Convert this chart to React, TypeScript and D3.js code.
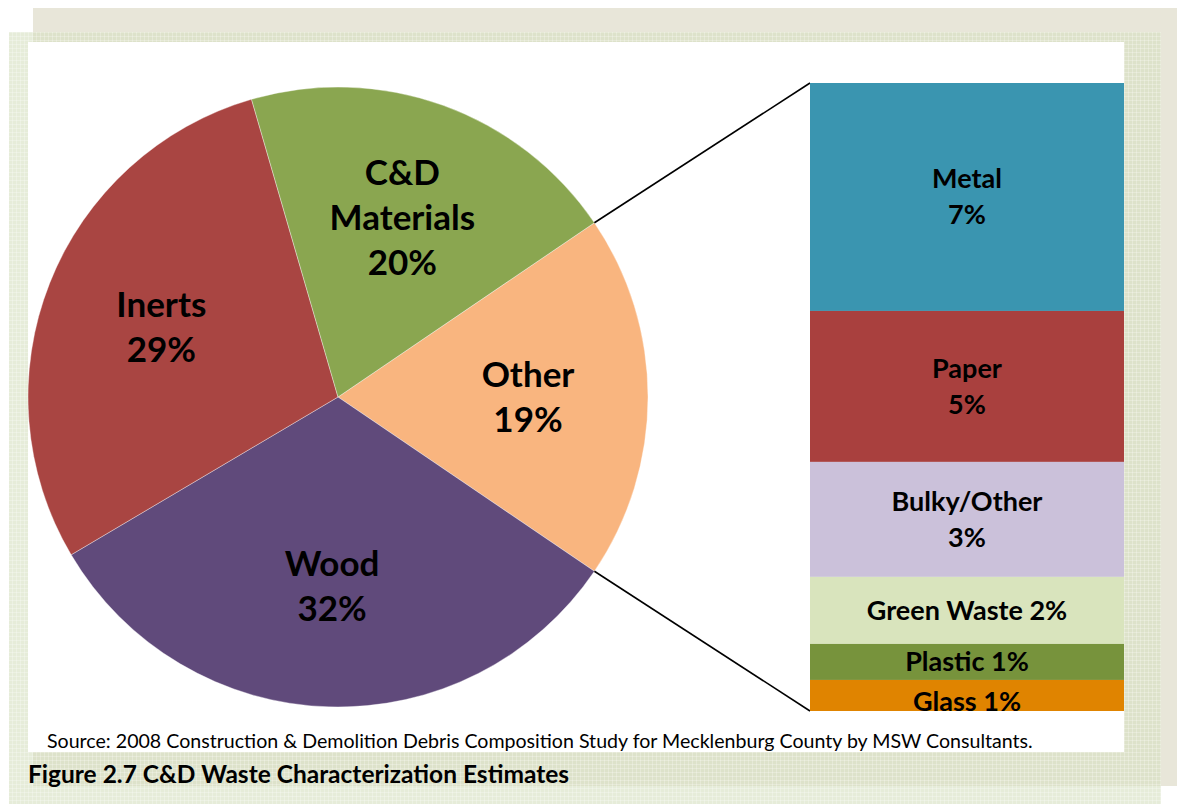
import React from "react";
import * as d3 from "d3";

// ---- data ----
const pieCategories = ["Other", "Wood", "Inerts", "C&D Materials"];
const pieValues = [19, 32, 29, 20];
const pieColors = ["#f9b57f", "#604a7b", "#a94542", "#8aa650"];
const pieLabelLines = [["Other", "19%"], ["Wood", "32%"], ["Inerts", "29%"], ["C&D", "Materials", "20%"]];

const barCategories = ["Metal", "Paper", "Bulky/Other", "Green Waste", "Plastic", "Glass"];
const barValues = [6.9, 4.57, 3.48, 2.03, 1.09, 0.94];
const barColors = ["#3a95b0", "#a9403e", "#cbc1da", "#d9e4bd", "#77933c", "#e08400"];
const barLabelLines = [["Metal", "7%"], ["Paper", "5%"], ["Bulky/Other", "3%"], ["Green Waste 2%"], ["Plastic 1%"], ["Glass 1%"]];

const sourceText = "Source: 2008 Construction & Demolition Debris Composition Study for Mecklenburg County by MSW Consultants.";
const captionText = "Figure 2.7 C&D Waste Characterization Estimates";

// ---- layout ----
const W = 1177, H = 804;
const cx = 338, cy = 397, R = 310;
const labelR = 190;
const barX0 = 810, barX1 = 1124, barTop = 83, barBottom = 711;
const FONT = "Lato, 'Open Sans', sans-serif";

export default function App() {
  const otherFrac = pieValues[0] / d3.sum(pieValues);
  const start = Math.PI / 2 - otherFrac * Math.PI;
  const pie = d3.pie<number>().sort(null).value((d) => d).startAngle(start).endAngle(start + 2 * Math.PI);
  const arcs = pie(pieValues);
  const arcGen = d3.arc<d3.PieArcDatum<number>>().innerRadius(0).outerRadius(R);
  const labelArc = d3.arc<d3.PieArcDatum<number>>().innerRadius(labelR).outerRadius(labelR);

  const total = d3.sum(barValues);
  const y = d3.scaleLinear().domain([0, total]).range([barTop, barBottom]);
  const cum = barValues.map((_, i) => d3.sum(barValues.slice(0, i)));

  const pt = (a: number) => [cx + R * Math.sin(a), cy - R * Math.cos(a)];
  const p1 = pt(arcs[0].startAngle);
  const p2 = pt(arcs[0].endAngle);

  const pieLH = 45, pieCap = 24;
  const barLH = 36, barCap = 19;

  return (
    <svg width={W} height={H} style={{ position: "absolute", left: 0, top: 0 }} fontFamily={FONT}>
      <defs>
        <pattern id="tex" width="4" height="4" patternUnits="userSpaceOnUse">
          <rect width="4" height="4" fill="none" />
          <rect x="0" y="0" width="1" height="4" fill="#ffffff" opacity="0.25" />
          <rect x="0" y="0" width="4" height="1" fill="#ffffff" opacity="0.25" />
        </pattern>
      </defs>
      <rect x={0} y={0} width={W} height={H} fill="#ffffff" />
      <rect x={33} y={8} width={W - 33} height={778} fill="#e8e6d9" />
      <rect x={9} y={32} width={1152} height={H - 32} fill="rgb(214,223,192)" opacity={0.6} />
      <rect x={9} y={32} width={1152} height={H - 32} fill="url(#tex)" />
      <rect x={28} y={42} width={barX1 - 28} height={752 - 42} fill="#ffffff" />

      {/* pie */}
      <g>
        {arcs.map((a, i) => (
          <path key={pieCategories[i]} d={arcGen(a) || ""} transform={`translate(${cx},${cy})`}
            fill={pieColors[i]} stroke="#ffffff" strokeWidth={0.6} strokeOpacity={0.6} />
        ))}
        {arcs.map((a, i) => {
          const [lx, ly] = labelArc.centroid(a);
          const lines = pieLabelLines[i];
          const n = lines.length;
          return (
            <text key={"l" + i} textAnchor="middle" fontWeight={700} fontSize={35} fill="#000">
              {lines.map((t, j) => (
                <tspan key={j} x={cx + lx} y={cy + ly + (j - (n - 1) / 2) * pieLH + pieCap / 2}>{t}</tspan>
              ))}
            </text>
          );
        })}
      </g>

      {/* connectors */}
      <line x1={p1[0]} y1={p1[1]} x2={barX0} y2={barTop} stroke="#000" strokeWidth={1.6} />
      <line x1={p2[0]} y1={p2[1]} x2={barX0} y2={barBottom} stroke="#000" strokeWidth={1.6} />

      {/* stacked bar */}
      <g>
        {barValues.map((v, i) => (
          <rect key={barCategories[i]} x={barX0} y={y(cum[i])} width={barX1 - barX0}
            height={y(cum[i] + v) - y(cum[i])} fill={barColors[i]} />
        ))}
        {barValues.map((v, i) => {
          const h = y(cum[i] + v) - y(cum[i]);
          const mid = (y(cum[i]) + y(cum[i] + v)) / 2 + (h < 34 ? 6 : 0);
          const lines = barLabelLines[i];
          const n = lines.length;
          return (
            <text key={"b" + i} textAnchor="middle" fontWeight={700} fontSize={27} fill="#000">
              {lines.map((t, j) => (
                <tspan key={j} x={(barX0 + barX1) / 2} y={mid + (j - (n - 1) / 2) * barLH + barCap / 2}>{t}</tspan>
              ))}
            </text>
          );
        })}
      </g>

      <text x={47} y={748} fontSize={19.6} fill="#000">{sourceText}</text>
      <text x={28} y={783} fontSize={24.5} fontWeight={700} fill="#000">{captionText}</text>
    </svg>
  );
}
